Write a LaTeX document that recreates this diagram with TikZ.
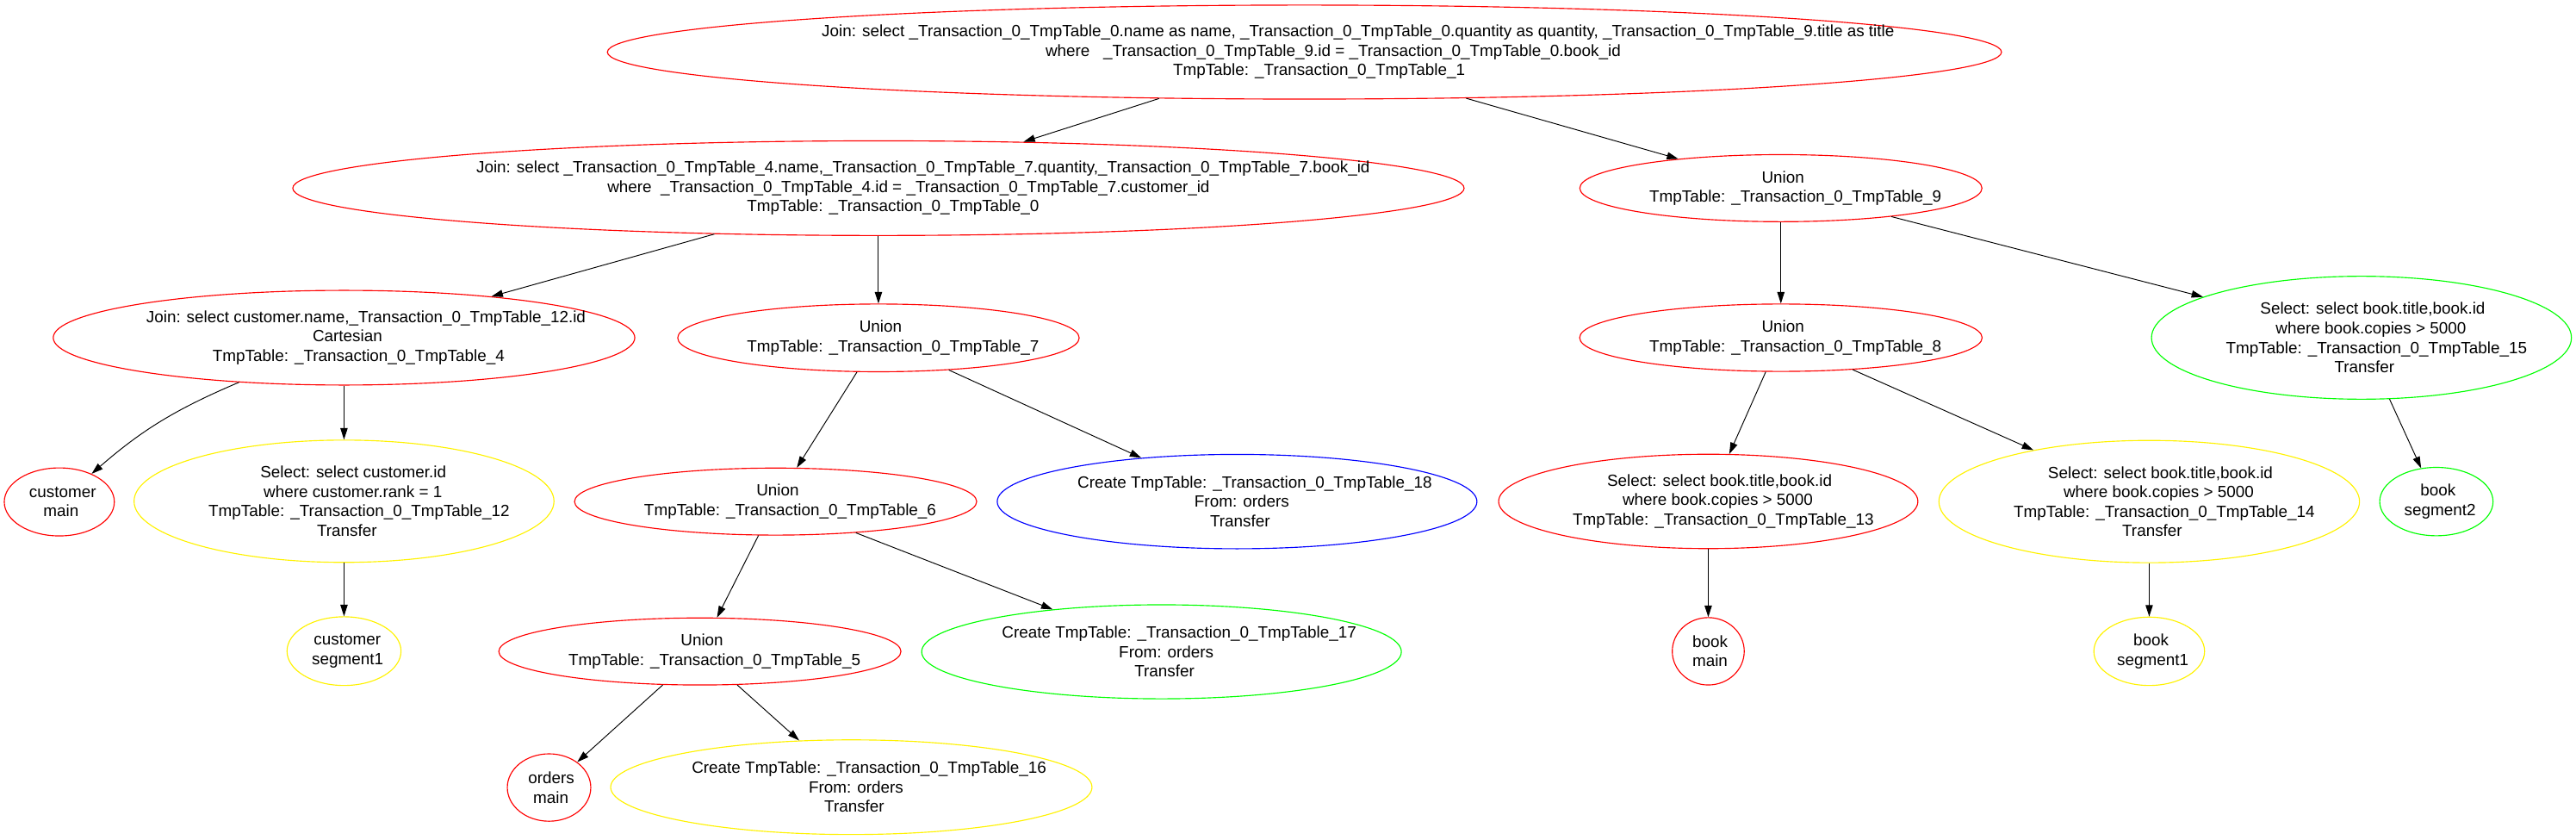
\documentclass[tikz,border=0pt]{standalone}
\usepackage{fontspec}
\setmainfont{Liberation Sans}
\usetikzlibrary{shapes.geometric, arrows.meta}
\newcommand\txtrow[1]{\setbox0=\hbox{#1}\kern0.1\wd0\box0}

\begin{document}
\begin{tikzpicture}[x=1pt, y=1pt,
                >={Triangle[length=7pt,width=4.4pt]},
                line width=0.5pt,
                op/.style={ellipse, draw=#1, line width=0.6pt, inner sep=0pt},
                txt/.style={align=center, inner sep=0pt, font=\fontsize{9.9}{11.8}\selectfont}
                ]

                \useasboundingbox (0,0) rectangle (1568,-511.1);

                % Nodes
                \node[op=red, minimum width=848.6pt, minimum height=57.2pt,
                      label={[txt]center:{\txtrow{Join: select \_Transaction\_0\_TmpTable\_0.name as name, \_Transaction\_0\_TmpTable\_0.quantity as quantity, \_Transaction\_0\_TmpTable\_9.title as title}\\
                                          \txtrow{where\ \ \ \_Transaction\_0\_TmpTable\_9.id = \_Transaction\_0\_TmpTable\_0.book\_id}\\
                                          \txtrow{TmpTable: \_Transaction\_0\_TmpTable\_1}}}] (tmp1) at (794,-31.7) {};
                \node[op=red, minimum width=713pt, minimum height=57.6pt,
                      label={[txt]center:{\txtrow{Join: select \_Transaction\_0\_TmpTable\_4.name,\_Transaction\_0\_TmpTable\_7.quantity,\_Transaction\_0\_TmpTable\_7.book\_id}\\
                                          \txtrow{where\ \ \_Transaction\_0\_TmpTable\_4.id = \_Transaction\_0\_TmpTable\_7.customer\_id}\\
                                          \txtrow{TmpTable: \_Transaction\_0\_TmpTable\_0}}}] (tmp0) at (534.7,-114.5) {};
                \node[op=red, minimum width=244.8pt, minimum height=40.8pt,
                      label={[txt]center:{\txtrow{Union}\\\txtrow{TmpTable: \_Transaction\_0\_TmpTable\_9}}}] (tmp9) at (1084,-114.5) {};
                \node[op=red, minimum width=354pt, minimum height=57.6pt,
                      label={[txt]center:{\txtrow{Join: select customer.name,\_Transaction\_0\_TmpTable\_12.id}\\
                                          \txtrow{Cartesian}\\
                                          \txtrow{TmpTable: \_Transaction\_0\_TmpTable\_4}}}] (tmp4) at (209.4,-205.5) {};
                \node[op=red, minimum width=244.4pt, minimum height=41.2pt,
                      label={[txt]center:{\txtrow{Union}\\\txtrow{TmpTable: \_Transaction\_0\_TmpTable\_7}}}] (tmp7) at (534.7,-205.6) {};
                \node[op=red, minimum width=245pt, minimum height=41pt,
                      label={[txt]center:{\txtrow{Union}\\\txtrow{TmpTable: \_Transaction\_0\_TmpTable\_8}}}] (tmp8) at (1084,-205.5) {};
                \node[op=green, minimum width=255.6pt, minimum height=74.8pt,
                      label={[txt]center:{\txtrow{Select: select book.title,book.id}\\
                                          \txtrow{where book.copies > 5000}\\
                                          \txtrow{TmpTable: \_Transaction\_0\_TmpTable\_15}\\
                                          \txtrow{Transfer}}}] (tmp15) at (1437.4,-205.5) {};
                \node[op=red, minimum width=67pt, minimum height=41.4pt,
                      label={[txt]center:{\txtrow{customer}\\\txtrow{main}}}] (custMain) at (36.1,-305.4) {};
                \node[op=yellow, minimum width=255.6pt, minimum height=74.4pt,
                      label={[txt]center:{\txtrow{Select: select customer.id}\\
                                          \txtrow{where customer.rank = 1}\\
                                          \txtrow{TmpTable: \_Transaction\_0\_TmpTable\_12}\\
                                          \txtrow{Transfer}}}] (tmp12) at (209.4,-305) {};
                \node[op=red, minimum width=244.8pt, minimum height=40.8pt,
                      label={[txt]center:{\txtrow{Union}\\\txtrow{TmpTable: \_Transaction\_0\_TmpTable\_6}}}] (tmp6) at (472.1,-305.2) {};
                \node[op=blue, minimum width=292pt, minimum height=57.4pt,
                      label={[txt]center:{\txtrow{Create TmpTable: \_Transaction\_0\_TmpTable\_18}\\
                                          \txtrow{From: orders}\\
                                          \txtrow{Transfer}}}] (tmp18) at (753,-305.2) {};
                \node[op=red, minimum width=255.2pt, minimum height=57.4pt,
                      label={[txt]center:{\txtrow{Select: select book.title,book.id}\\
                                          \txtrow{where book.copies > 5000}\\
                                          \txtrow{TmpTable: \_Transaction\_0\_TmpTable\_13}}}] (tmp13) at (1039.8,-305.1) {};
                \node[op=yellow, minimum width=256pt, minimum height=74.4pt,
                      label={[txt]center:{\txtrow{Select: select book.title,book.id}\\
                                          \txtrow{where book.copies > 5000}\\
                                          \txtrow{TmpTable: \_Transaction\_0\_TmpTable\_14}\\
                                          \txtrow{Transfer}}}] (tmp14) at (1308.2,-305.2) {};
                \node[op=green, minimum width=69pt, minimum height=41.6pt,
                      label={[txt]center:{\txtrow{book}\\\txtrow{segment2}}}] (bookSeg2) at (1483,-305.2) {};
                \node[op=yellow, minimum width=69.4pt, minimum height=41.8pt,
                      label={[txt]center:{\txtrow{customer}\\\txtrow{segment1}}}] (custSeg1) at (209.4,-396.2) {};
                \node[op=red, minimum width=244.8pt, minimum height=40.8pt,
                      label={[txt]center:{\txtrow{Union}\\\txtrow{TmpTable: \_Transaction\_0\_TmpTable\_5}}}] (tmp5) at (426,-396.4) {};
                \node[op=green, minimum width=292pt, minimum height=57.2pt,
                      label={[txt]center:{\txtrow{Create TmpTable: \_Transaction\_0\_TmpTable\_17}\\
                                          \txtrow{From: orders}\\
                                          \txtrow{Transfer}}}] (tmp17) at (707,-396.6) {};
                \node[op=red, minimum width=43.8pt, minimum height=41pt,
                      label={[txt]center:{\txtrow{book}\\\txtrow{main}}}] (bookMain) at (1039.8,-396.3) {};
                \node[op=yellow, minimum width=67.4pt, minimum height=41.6pt,
                      label={[txt]center:{\txtrow{book}\\\txtrow{segment1}}}] (bookSeg1) at (1308.2,-396.3) {};
                \node[op=red, minimum width=50.8pt, minimum height=41pt,
                      label={[txt]center:{\txtrow{orders}\\\txtrow{main}}}] (ordersMain) at (334.2,-479.2) {};
                \node[op=yellow, minimum width=293pt, minimum height=57.6pt,
                      label={[txt]center:{\txtrow{Create TmpTable: \_Transaction\_0\_TmpTable\_16}\\
                                          \txtrow{From: orders}\\
                                          \txtrow{Transfer}}}] (tmp16) at (518.2,-479) {};

                % Paths
                \path[->]
                (tmp1) edge (tmp0)
                       edge (tmp9)
                (tmp0) edge (tmp4)
                       edge (tmp7)
                (tmp9) edge (tmp8)
                       edge (tmp15)
                (tmp4) edge [out=203, in=41] (custMain)
                       edge (tmp12)
                (tmp7) edge (tmp6)
                       edge (tmp18)
                (tmp8) edge (tmp13)
                       edge (tmp14)
                (tmp15) edge (bookSeg2)
                (tmp12) edge (custSeg1)
                (tmp6) edge (tmp5)
                       edge (tmp17)
                (tmp13) edge (bookMain)
                (tmp14) edge (bookSeg1)
                (tmp5) edge (ordersMain)
                       edge (tmp16);
            \end{tikzpicture}
\end{document}
